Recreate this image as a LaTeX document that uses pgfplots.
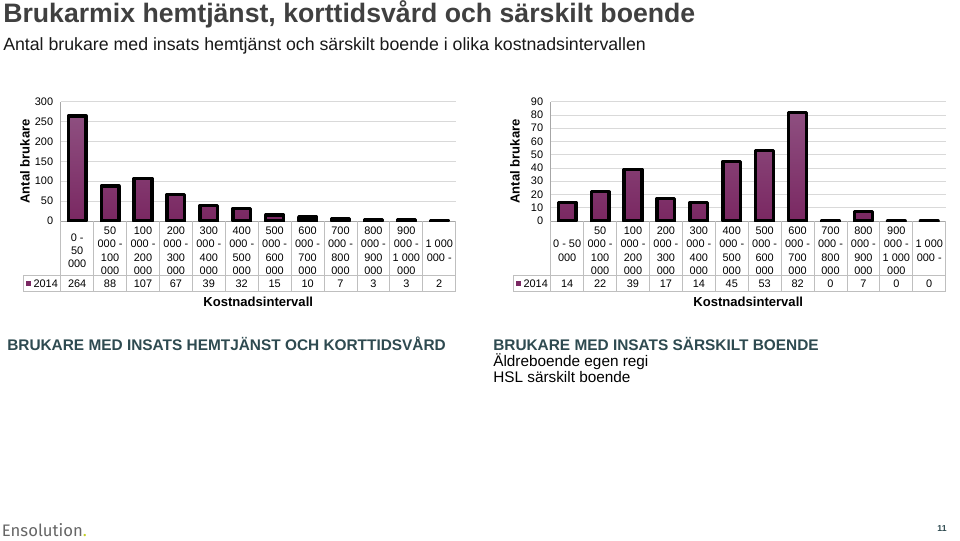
\documentclass[border=0pt]{standalone}
\usepackage{fontspec}
\setmainfont{Liberation Sans}
\newfontfamily\fira{Fira Sans}
\usepackage{pgfplots}
\pgfplotsset{compat=1.18}
\usepackage{pgfplotstable}

\definecolor{barTop}{HTML}{8E4F80}
\definecolor{barBot}{HTML}{7A2862}
\definecolor{gridc}{HTML}{D9D9D9}
\definecolor{tline}{HTML}{BFBFBF}
\definecolor{axgray}{HTML}{A6A6A6}
\definecolor{titlegray}{HTML}{404040}
\definecolor{slate}{HTML}{2E4A50}
\definecolor{dotgreen}{HTML}{C3CF21}

\pgfplotstableread{
i n
0 264
1 88
2 107
3 67
4 39
5 32
6 15
7 10
8 7
9 3
10 3
11 2
}\hemtjanst

\pgfplotstableread{
i n
0 14
1 22
2 39
3 17
4 14
5 45
6 53
7 82
8 0
9 7
10 0
11 0
}\sarskilt

\newcommand\tabf{\fontsize{8.2}{10}\selectfont}

\pgfplotsset{brukar/.style={
  scale only axis, width=296.25pt, height=89.5pt, anchor=south west,
  ybar, bar width=13.3pt,
  xmin=-0.5, xmax=11.5, ymin=0,
  axis x line=bottom, axis y line=left,
  axis line style={draw=axgray, line width=0.6pt, -},
  xtick={0,...,11}, tick style={draw=none},
  ymajorgrids, grid style={draw=gridc, line width=0.6pt},
  /pgf/number format/assume math mode=true,
  tick label style={font=\tabf, text=black},
  xticklabel style={anchor=center, yshift=-20.25pt, align=center},
  ylabel={Antal brukare}, xlabel={Kostnadsintervall},
  label style={font=\bfseries\fontsize{9.8}{11}\selectfont},
  ylabel style={at={(axis description cs:-0.0905,0.5)}, anchor=center},
  xlabel style={at={(axis description cs:0.5,-0.676)}, anchor=center},
}}

\pgfplotsset{barstyle/.style={draw=black, line width=2.5pt, line join=round,
  top color=barTop, bottom color=barBot}}

\newcommand\datatable[3]{%
  \foreach \k in {0,...,12}{\draw[tline, line width=0.6pt] ({#1+\k*32.917},540-221) -- ({#1+\k*32.917},540-291.7);}
  \draw[tline, line width=0.6pt] (#2,540-275) -- ({#1+395},540-275);
  \draw[tline, line width=0.6pt] (#2,540-291.7) -- ({#1+395},540-291.7);
  \draw[tline, line width=0.6pt] (#2,540-275) -- (#2,540-291.7);
  \fill[barBot] ({#2+3},540-280.8) rectangle ++(5,-5);
  \node[font=\tabf, anchor=west, inner sep=0pt] at ({#2+10},540-283.3) {2014};
  \foreach \i in {0,...,11}{
    \pgfplotstablegetelem{\i}{n}\of#3
    \node[font=\tabf, inner sep=0pt] at ({#1+(\i+0.5)*32.917},540-283.3) {\pgfplotsretval};
  }%
}

\begin{document}
\begin{tikzpicture}[x=0.75pt, y=0.75pt]
\path[use as bounding box, fill=white] (0,0) rectangle (960,540);
\coordinate (LA) at (60.7,319);
\coordinate (RA) at (550.7,319);

% titles
\node[anchor=base west, inner sep=0pt, font=\bfseries\fontsize{20}{24}\selectfont, text=titlegray] at (3,540-23) {Brukarmix hemtjänst, korttidsvård och särskilt boende};
\node[anchor=base west, inner sep=0pt, font=\fontsize{13.3}{15}\selectfont, text=black!90] at (3,540-51) {Antal brukare med insats hemtjänst och särskilt boende i olika kostnadsintervallen};

% left chart
\begin{axis}[brukar, at={(LA)}, ymax=300, ytick={0,50,...,300},
  xticklabels={{0 -\\50\\000},{50\\000 -\\100\\000},{100\\000 -\\200\\000},{200\\000 -\\300\\000},{300\\000 -\\400\\000},{400\\000 -\\500\\000},{500\\000 -\\600\\000},{600\\000 -\\700\\000},{700\\000 -\\800\\000},{800\\000 -\\900\\000},{900\\000 -\\1 000\\000},{1 000\\000 -}}]
\addplot[barstyle] table[x=i, y=n] {\hemtjanst};
\end{axis}
\datatable{60.7}{23.3}{\hemtjanst}

% right chart
\begin{axis}[brukar, at={(RA)}, ymax=90, ytick={0,10,...,90},
  xticklabels={{0 - 50\\000},{50\\000 -\\100\\000},{100\\000 -\\200\\000},{200\\000 -\\300\\000},{300\\000 -\\400\\000},{400\\000 -\\500\\000},{500\\000 -\\600\\000},{600\\000 -\\700\\000},{700\\000 -\\800\\000},{800\\000 -\\900\\000},{900\\000 -\\1 000\\000},{1 000\\000 -}}]
\addplot[barstyle] table[x=i, y=n] {\sarskilt};
\end{axis}
\datatable{550.7}{513.3}{\sarskilt}

% section headings
\node[anchor=base west, inner sep=0pt, font=\bfseries\fontsize{11.55}{13}\selectfont, text=slate] at (7,540-350.5) {BRUKARE MED INSATS HEMTJÄNST OCH KORTTIDSVÅRD};
\node[anchor=base west, inner sep=0pt, font=\bfseries\fontsize{11.55}{13}\selectfont, text=slate] at (493,540-350.5) {BRUKARE MED INSATS SÄRSKILT BOENDE};
\node[anchor=base west, inner sep=0pt, font=\fontsize{11.5}{13}\selectfont, text=black] at (493,540-366) {Äldreboende egen regi};
\node[anchor=base west, inner sep=0pt, font=\fontsize{11.5}{13}\selectfont, text=black] at (493,540-382.3) {HSL särskilt boende};

% footer
\node[anchor=base west, inner sep=0pt, font=\fira\fontsize{12.5}{14}\selectfont, text=black!60] at (1.7,540-536.7) {Ensolution\textcolor{dotgreen}{.}};
\node[inner sep=0pt, font=\bfseries\fontsize{6.5}{8}\selectfont, text=slate] at (942,540-529) {11};
\end{tikzpicture}
\end{document}
